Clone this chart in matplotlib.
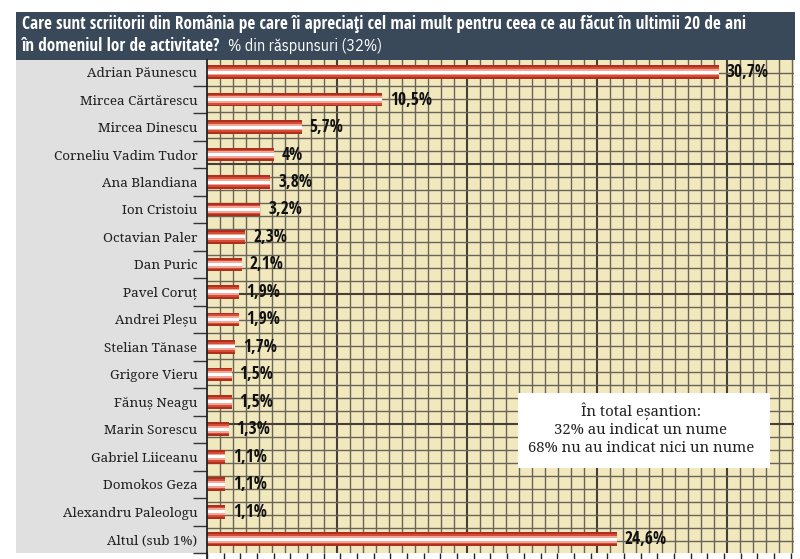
import matplotlib
matplotlib.use("Agg")
import matplotlib.pyplot as plt
from matplotlib.patches import Rectangle
import numpy as np

names = ["Adrian Păunescu", "Mircea Cărtărescu", "Mircea Dinescu", "Corneliu Vadim Tudor",
         "Ana Blandiana", "Ion Cristoiu", "Octavian Paler", "Dan Puric", "Pavel Coruț",
         "Andrei Pleșu", "Stelian Tănase", "Grigore Vieru", "Fănuș Neagu", "Marin Sorescu",
         "Gabriel Liiceanu", "Domokos Geza", "Alexandru Paleologu", "Altul (sub 1%)"]
values = [30.7, 10.5, 5.7, 4, 3.8, 3.2, 2.3, 2.1, 1.9, 1.9, 1.7, 1.5, 1.5, 1.3, 1.1, 1.1, 1.1, 24.6]
value_labels = ["30,7%", "10,5%", "5,7%", "4%", "3,8%", "3,2%", "2,3%", "2,1%", "1,9%",
                "1,9%", "1,7%", "1,5%", "1,5%", "1,3%", "1,1%", "1,1%", "1,1%", "24,6%"]
title_line1 = "Care sunt scriitorii din România pe care îi apreciaţi cel mai mult pentru ceea ce au făcut în ultimii 20 de ani"
title_line2_bold = "în domeniul lor de activitate?"
title_line2_regular = "% din răspunsuri (32%)"
note_lines = ["În total eșantion:", "32% au indicat un nume", "68% nu au indicat nici un nume"]

W, H = 800, 559
fig = plt.figure(figsize=(8, 5.59), dpi=100)
fig.patch.set_facecolor("white")
renderer = fig.canvas.get_renderer()

def fx(px):
    return px / W

def fy(py):
    return 1 - py / H

def fit(t, target):
    w = t.get_window_extent(renderer=renderer).width
    t.set_fontsize(t.get_fontsize() * target / w)

COND = ["Open Sans Condensed", "IBM Plex Sans Condensed", "DejaVu Sans"]
SERIF = ["Noto Serif", "DejaVu Serif"]

# title box and label panel
fig.patches.append(Rectangle((fx(16), fy(60)), fx(795) - fx(16), fy(12) - fy(60),
                             transform=fig.transFigure, facecolor="#3a4959", edgecolor="none", zorder=0))
fig.patches.append(Rectangle((fx(16), fy(553)), fx(207) - fx(16), fy(60) - fy(553),
                             transform=fig.transFigure, facecolor="#e0e0e0", edgecolor="none", zorder=0))

left, right, top, bottom = 207, 794, 60, 553
pos = [fx(left), fy(bottom), fx(right) - fx(left), fy(top) - fy(bottom)]

# background grid axes
cell = 13.0
bg = fig.add_axes(pos, zorder=1)
bg.set_facecolor("#f1e8bd")
nx = (right - left) / cell
ny = (bottom - top) / cell
bg.set_xlim(0, nx)
bg.set_ylim(ny, 0)
for i in range(1, int(nx) + 1):
    thick = (i % 10 == 0)
    bg.axvline(i, color="#463f38" if thick else "#6a6358", lw=1.5 if thick else 1.0, zorder=1)
for j in range(1, int(ny) + 1):
    thick = ((j - 8) % 10 == 0)
    bg.axhline(j, color="#463f38" if thick else "#6a6358", lw=1.5 if thick else 1.0, zorder=1)
bg.set_xticks([])
bg.set_yticks([])
for s in bg.spines.values():
    s.set_visible(False)

# main axes
ax = fig.add_axes(pos, zorder=2)
ax.patch.set_visible(False)
y = np.arange(len(names))
ax.set_xlim(0, 35.2)
ax.set_ylim(len(names) - 0.5, -0.44)

ax.barh(y, values, height=0.50, color="#b02e1c", zorder=3)
ax.barh(y, values, height=0.36, color="#d54b36", zorder=4)
ax.barh(y, values, height=0.24, color="#f0a898", zorder=5)
ax.barh(y, values, height=0.11, color="#ffffff", zorder=6)

for yi, v, lab in zip(y, values, value_labels):
    ax.annotate(lab, (v, yi), xytext=(5.5, 0), textcoords="offset points",
                ha="left", va="center", fontsize=12.5, fontweight="bold",
                family=COND, color="#111111", zorder=7)

ax.set_yticks(y)
ax.set_yticklabels(names, family=SERIF, fontsize=9.7, color="#222222")
ax.tick_params(axis="y", which="major", length=0, pad=7)
ax.set_yticks(list(y + 0.5), minor=True)
ax.tick_params(axis="y", which="minor", length=10, width=1.0, color="#333333", direction="out")

ax.set_xticks(np.arange(0, 36, 1))
ax.set_xticklabels([])
ax.tick_params(axis="x", which="major", length=5, width=1.0, color="#222222", direction="out", pad=0)

for s in ["top", "right", "bottom"]:
    ax.spines[s].set_visible(False)
ax.spines["left"].set_color("#222222")
ax.spines["left"].set_linewidth(1.3)
ax.spines["left"].set_zorder(8)

# spine extension below
fig.add_artist(plt.Line2D([fx(left), fx(left)], [fy(553), 0], transform=fig.transFigure,
                          color="#222222", lw=1.3))

# note box
fig.patches.append(Rectangle((fx(518), fy(468)), fx(770) - fx(518), fy(393) - fy(468),
                             transform=fig.transFigure, facecolor="white", edgecolor="none", zorder=3))
note_texts = []
for line, py in zip(note_lines, [411, 430, 448]):
    note_texts.append(fig.text(fx(641), fy(py), line, ha="center", va="center", family=SERIF,
                               fontsize=11.5, color="#222222", zorder=4))
fig.canvas.draw()
w_last = note_texts[-1].get_window_extent(renderer=renderer).width
scale = 227 / w_last
for t in note_texts:
    t.set_fontsize(t.get_fontsize() * scale)

# title
t1 = fig.text(fx(22), fy(24), title_line1, ha="left", va="center", family=COND,
              fontsize=12.5, fontweight="bold", color="white")
fit(t1, 726)
fs = t1.get_fontsize()
t2 = fig.text(fx(22), fy(46), title_line2_bold, ha="left", va="center", family=COND,
              fontsize=fs, fontweight="bold", color="white")
fit(t2, 198)
t3 = fig.text(fx(228), fy(46), title_line2_regular, ha="left", va="center",
              family=["IBM Plex Sans Condensed", "DejaVu Sans"],
              fontsize=fs, color="white")
fit(t3, 154)

fig.savefig("out.png", dpi=100, facecolor="white")
